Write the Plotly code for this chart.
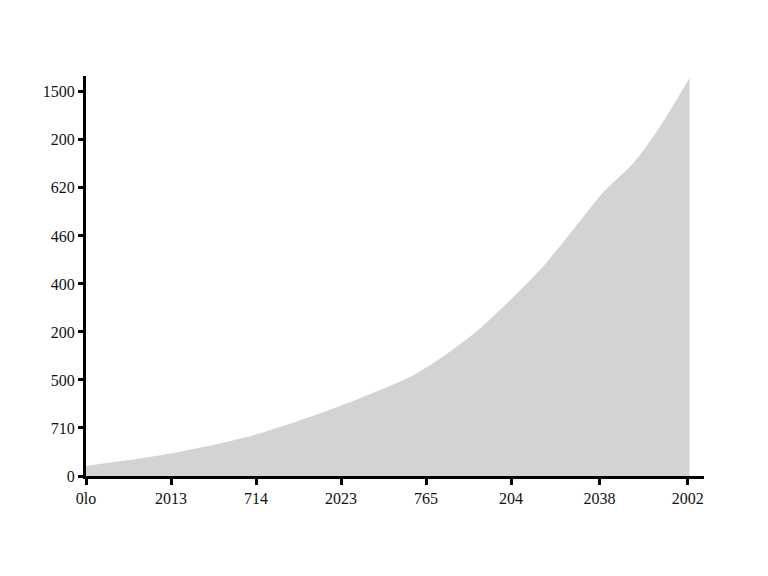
import plotly.graph_objects as go

# points (x in tick units, y in tick units)
x_vals = [0.0, 0.91, 1.89, 2.87, 3.85, 4.25, 4.64, 5.34, 5.73, 6.08, 6.44, 6.72, 7.1]
y_vals = [0.21, 0.44, 0.81, 1.38, 2.10, 2.55, 3.08, 4.29, 5.13, 5.90, 6.52, 7.19, 8.29]

x_tickvals = [0, 1, 2, 3, 4, 5, 6.04, 7.08]
x_ticktext = ['0lo', '2013', '714', '2023', '765', '204', '2038', '2002']
y_tickvals = [0, 1, 2, 3, 4, 5, 6, 7, 8]
y_ticktext = ['0', '710', '500', '200', '400', '460', '620', '200', '1500']

fig = go.Figure()
fig.add_trace(go.Scatter(
    x=x_vals,
    y=y_vals,
    mode='lines',
    line=dict(width=0, shape='spline', smoothing=0.8),
    fill='tozeroy',
    fillcolor='#d3d3d3',
    hoverinfo='skip'))

fig.update_layout(
    width=760, height=560,
    margin=dict(l=78, r=64, t=68, b=92),
    paper_bgcolor='white', plot_bgcolor='white',
    showlegend=False,
    font=dict(family='Liberation Serif', size=16, color='#111111'),
    xaxis=dict(range=[0, 7.27], tickvals=x_tickvals, ticktext=x_ticktext,
               showgrid=False, zeroline=False, showline=True, linecolor='black',
               linewidth=3, ticks='outside', ticklen=6, tickwidth=3, tickcolor='black'),
    yaxis=dict(range=[0, 8.33], tickvals=y_tickvals, ticktext=y_ticktext,
               showgrid=False, zeroline=False, showline=True, linecolor='black',
               linewidth=3, ticks='outside', ticklen=5, tickwidth=3, tickcolor='black'))

fig.write_html("out.html")
